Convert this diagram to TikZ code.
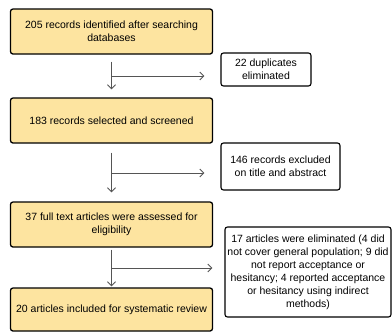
\documentclass[tikz,border=0pt]{standalone}
\usepackage{fontspec}
\setmainfont{Liberation Sans}
\usetikzlibrary{arrows.meta}
\definecolor{boxfill}{RGB}{253,228,160}
\definecolor{linegray}{RGB}{85,85,85}

\begin{document}
\begin{tikzpicture}[x=1pt,y=-1pt,
    stage/.style={rectangle,rounded corners=2.5pt,draw=black,line width=1.3pt,fill=boxfill,minimum width=202pt,inner sep=1pt,align=center,font=\fontsize{10.5}{13}\selectfont},
    note/.style={rectangle,rounded corners=2.5pt,draw=black,line width=1.1pt,fill=white,inner sep=1pt,align=center,font=\fontsize{10.5}{13}\selectfont},
    flow/.style={draw=linegray,line width=0.9pt,arrows=-{Straight Barb[length=4pt,width=8pt]}}]

        % \draw [help lines] (0,0) grid (392,333);
        \useasboundingbox (0,0) rectangle (392,333);

        \path   (111.5,31.5)  node (s1) [stage,minimum height=45pt] {205 records identified after searching\\databases}
                (111.5,120.5) node (s2) [stage,minimum height=45pt] {183 records selected and screened}
                (111.5,224.5) node (s3) [stage,minimum height=45pt] {37 full text articles were assessed for\\eligibility}
                (111.5,309.5) node (s4) [stage,minimum height=43pt] {20 articles included for systematic review};

        \path   (266,69.5)    node (d1) [note,minimum width=90pt,minimum height=33pt] {22 duplicates\\eliminated}
                (280.5,166.5) node (d2) [note,minimum width=119pt,minimum height=47pt] {146 records excluded\\on title and abstract}
                (308,272)     node (d3) [note,minimum width=166pt,minimum height=90pt] {17 articles were eliminated (4 did\\not cover general population; 9 did\\not report acceptance or\\hesitancy; 4 reported acceptance\\or hesitancy using indirect\\methods)};

        \coordinate (m1) at (111.5,76);
        \coordinate (m2) at (111.5,173);
        \coordinate (m3) at (111.5,268);

        \draw[flow,shorten <=7pt,shorten >=8pt] (s1.south) -- (s2.north);
        \draw[flow,shorten <=9pt,shorten >=9pt] (s2.south) -- (s3.north);
        \draw[flow,shorten <=2pt,shorten >=1pt] (s3.south) -- (s4.north);

        \draw[flow,shorten >=16pt] (m1) -- (m1 -| d1.west);
        \draw[flow,shorten >=16pt] (m2) -- (m2 -| d2.west);
        \draw[flow,shorten >=12pt] (m3) -- (m3 -| d3.west);

\end{tikzpicture}
\end{document}
